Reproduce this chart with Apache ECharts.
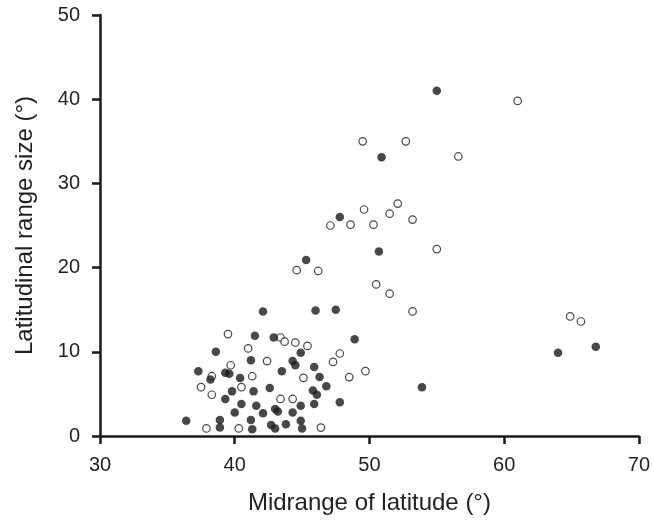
<!DOCTYPE html>
<html>
<head>
<meta charset="utf-8">
<script src="https://cdn.jsdelivr.net/npm/echarts@6/dist/echarts.min.js"></script>
<style>html,body{margin:0;padding:0;background:#fff}#c{width:653px;height:531px}</style>
</head>
<body>
<div id="c"></div>
<script>
const xTicks = [30, 40, 50, 60, 70];
const yTicks = [0, 10, 20, 30, 40, 50];

const filledPoints = [
  [55.0,41.0],[50.9,33.1],[47.8,26.0],[50.7,21.9],[45.3,20.9],[46.0,14.9],[47.5,15.0],
  [64.0,9.9],[66.8,10.6],[48.9,11.5],[44.9,9.9],[44.3,8.9],[44.5,8.4],[43.5,7.7],
  [45.9,8.2],[46.3,7.0],[46.8,5.9],[45.8,5.4],[46.1,4.9],[44.9,3.6],[45.9,3.8],
  [47.8,4.0],[43.2,2.9],[44.3,2.8],[43.8,1.4],[44.9,1.8],[45.0,0.9],[42.1,14.8],
  [41.5,11.9],[42.9,11.7],[38.6,10.0],[41.2,9.0],[37.3,7.7],[39.3,7.5],[39.6,7.4],
  [38.2,6.7],[40.4,6.9],[39.8,5.3],[41.4,5.3],[42.6,5.7],[39.3,4.4],[40.5,3.8],
  [41.6,3.6],[40.0,2.8],[42.1,2.7],[43.0,3.2],[36.4,1.8],[38.9,1.9],[41.2,1.9],
  [42.7,1.3],[43.0,0.9],[38.9,1.0],[41.3,0.8],[53.9,5.8]
];

const openPoints = [
  [61.0,39.8],[49.5,35.0],[52.7,35.0],[56.6,33.2],[52.1,27.6],[49.6,26.9],[51.5,26.4],
  [53.2,25.7],[47.1,25.0],[48.6,25.1],[50.3,25.1],[55.0,22.2],[44.6,19.7],[46.2,19.6],
  [50.5,18.0],[51.5,16.9],[53.2,14.8],[64.9,14.2],[65.7,13.6],[43.4,11.7],[43.7,11.2],
  [44.5,11.1],[45.4,10.7],[47.8,9.8],[47.3,8.8],[49.7,7.7],[45.1,6.9],[48.5,7.0],
  [43.4,4.4],[44.3,4.4],[46.4,1.0],[39.5,12.1],[41.0,10.4],[42.4,8.9],[39.7,8.4],
  [38.3,7.1],[41.3,7.1],[37.5,5.8],[40.5,5.8],[38.3,4.9],[37.9,0.9],[40.3,0.9]
];

const xName = 'Midrange of latitude (°)';
const yName = 'Latitudinal range size (°)';

const font = '"Liberation Sans", Arial, sans-serif';
const axisCommon = {
  axisLine: { show: true, lineStyle: { color: '#1a1a1a', width: 2.5 } },
  axisTick: { show: true, inside: false, length: 8, lineStyle: { color: '#1a1a1a', width: 2.5 } },
  splitLine: { show: false },
  axisLabel: { color: '#231f20', fontSize: 20, fontFamily: font },
  nameTextStyle: { color: '#231f20', fontSize: 24, fontFamily: font }
};

const chart = echarts.init(document.getElementById('c'), null, { renderer: 'canvas' });
chart.setOption({
  animation: false,
  backgroundColor: '#fff',
  grid: { left: 100, right: 11, top: 15, bottom: 95, containLabel: false },
  xAxis: Object.assign({}, axisCommon, {
    type: 'value', min: xTicks[0], max: xTicks[xTicks.length - 1], interval: 10,
    name: xName, nameLocation: 'middle', nameGap: 55,
    axisLabel: Object.assign({}, axisCommon.axisLabel, { margin: 19 })
  }),
  yAxis: Object.assign({}, axisCommon, {
    type: 'value', min: yTicks[0], max: yTicks[yTicks.length - 1], interval: 10,
    name: yName, nameLocation: 'middle', nameGap: 63, nameRotate: 90,
    axisLabel: Object.assign({}, axisCommon.axisLabel, { margin: 20 })
  }),
  series: [
    {
      type: 'scatter', data: openPoints, symbol: 'circle', symbolSize: 7.5,
      itemStyle: { color: '#fff', borderColor: '#1a1a1a', borderWidth: 1.2 }, z: 2
    },
    {
      type: 'scatter', data: filledPoints, symbol: 'circle', symbolSize: 8.5,
      itemStyle: { color: '#1a1a1a', borderWidth: 0 }, z: 3
    }
  ]
});
</script>
</body>
</html>
